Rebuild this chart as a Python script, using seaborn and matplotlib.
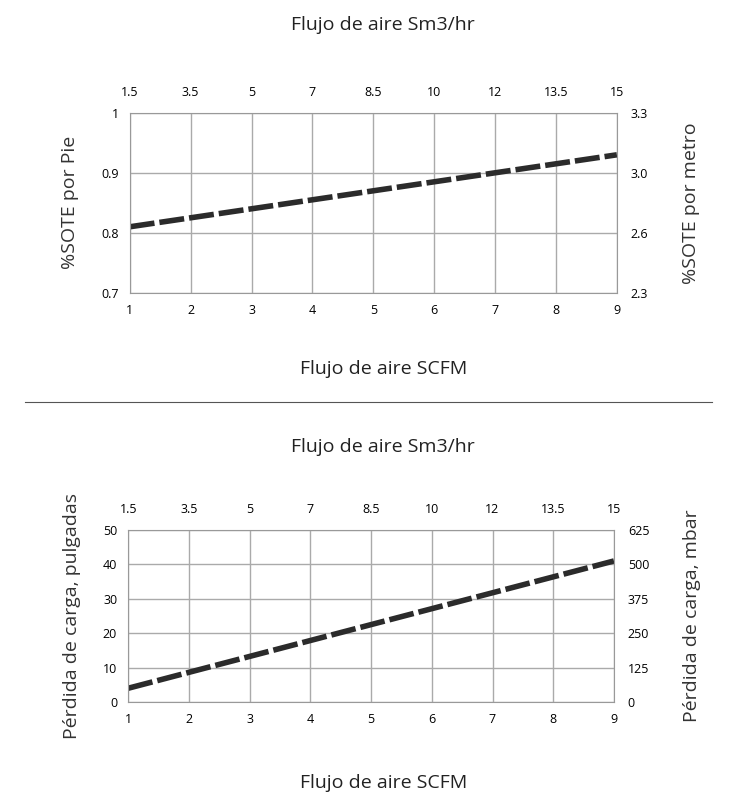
import matplotlib
matplotlib.use("Agg")
import matplotlib.pyplot as plt
import seaborn as sns
import pandas as pd
from matplotlib.lines import Line2D

scfm = [1, 9]
sote = [0.81, 0.93]
loss = [4, 41]
x_ticks = [1, 2, 3, 4, 5, 6, 7, 8, 9]
top_labels = ["1.5", "3.5", "5", "7", "8.5", "10", "12", "13.5", "15"]
sote_ticks = [0.7, 0.8, 0.9, 1.0]
sote_labels = ["0.7", "0.8", "0.9", "1"]
sote_right = ["2.3", "2.6", "3.0", "3.3"]
loss_ticks = [0, 10, 20, 30, 40, 50]
loss_right = ["0", "125", "250", "375", "500", "625"]

plt.rcParams["font.family"] = "Open Sans"
fig = plt.figure(figsize=(7.37, 8), dpi=100)

def panel(rect, y, yticks, ylabels, rlabels, ylim, ylab, rlab, title_y, xlab_y):
    ax = fig.add_axes(rect)
    df = pd.DataFrame({"x": scfm, "y": y})
    sns.lineplot(data=df, x="x", y="y", ax=ax, color="#2b2b2b", lw=4)
    ax.lines[0].set_dashes([4.5, 0.9])
    ax.set_xlim(1, 9); ax.set_ylim(*ylim)
    ax.set_xticks(x_ticks); ax.set_yticks(yticks); ax.set_yticklabels(ylabels)
    ax.grid(True, color="#aaaaaa", lw=1)
    ax.tick_params(length=0, labelsize=9, pad=8)
    for s in ax.spines.values():
        s.set_color("#999999")
    ax.set_xlabel("")
    ax.set_ylabel(ylab, fontsize=14, color="#333333", labelpad=16)
    sec = ax.secondary_xaxis("top")
    sec.set_xticks(x_ticks); sec.set_xticklabels(top_labels)
    sec.tick_params(length=0, labelsize=9, pad=10)
    sec.spines["top"].set_visible(False)
    r = ax.twinx()
    r.set_ylim(*ylim); r.set_yticks(yticks); r.set_yticklabels(rlabels)
    r.tick_params(length=0, labelsize=9, pad=10)
    for s in r.spines.values():
        s.set_visible(False)
    r.set_ylabel(rlab, fontsize=14, color="#333333", labelpad=24)
    fig.text(0.52, title_y, "Flujo de aire Sm3/hr", ha="center", fontsize=14, color="#222222")
    fig.text(0.52, xlab_y, "Flujo de aire SCFM", ha="center", fontsize=14, color="#222222")
    return ax

panel([0.176, 0.634, 0.661, 0.225], sote, sote_ticks, sote_labels, sote_right,
      (0.7, 1.0), "%SOTE por Pie", "%SOTE por metro", 0.962, 0.532)
panel([0.174, 0.1225, 0.659, 0.215], loss, loss_ticks, [str(t) for t in loss_ticks], loss_right,
      (0, 50), "Pérdida de carga, pulgadas", "Pérdida de carga, mbar", 0.435, 0.015)
fig.add_artist(Line2D([0.034, 0.966], [0.497, 0.497], color="#555555", lw=0.8))
fig.savefig("out.png", dpi=100)
